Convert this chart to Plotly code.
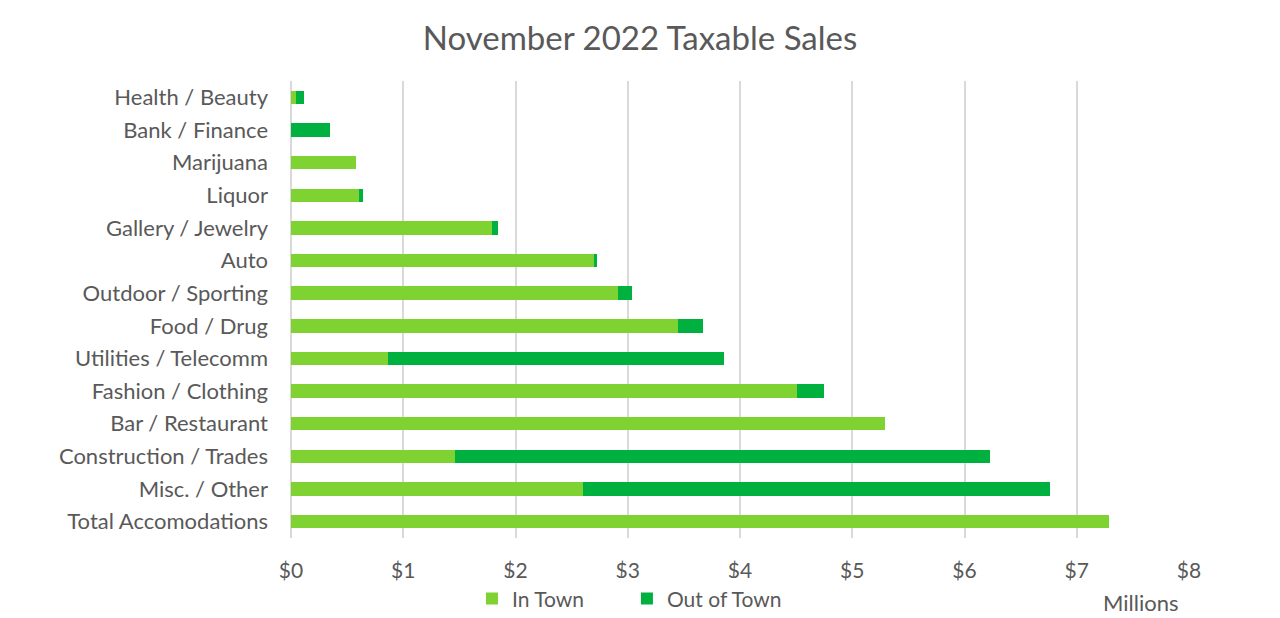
import plotly.graph_objects as go

categories = ["Health / Beauty", "Bank / Finance", "Marijuana", "Liquor", "Gallery / Jewelry",
              "Auto", "Outdoor / Sporting", "Food / Drug", "Utilities / Telecomm",
              "Fashion / Clothing", "Bar / Restaurant", "Construction / Trades",
              "Misc. / Other", "Total Accomodations"]
in_town = [0.045, 0.0, 0.58, 0.61, 1.79, 2.70, 2.91, 3.45, 0.866, 4.505, 5.29, 1.457, 2.60, 7.29]
out_of_town = [0.068, 0.35, 0.0, 0.035, 0.05, 0.03, 0.13, 0.22, 2.995, 0.24, 0.0, 4.77, 4.16, 0.0]
tick_vals = [0, 1, 2, 3, 4, 5, 6, 7, 8]
tick_text = ["$0", "$1", "$2", "$3", "$4", "$5", "$6", "$7", "$8"]

FONT = "Lato"
GREY = "#595959"

fig = go.Figure()
fig.add_trace(go.Bar(y=categories, x=in_town, orientation="h", name="In Town",
                     marker=dict(color="#7ED332", line=dict(width=0))))
fig.add_trace(go.Bar(y=categories, x=out_of_town, orientation="h", name="Out of Town",
                     marker=dict(color="#00B140", line=dict(width=0))))

fig.update_layout(
    barmode="stack",
    bargap=0.59,
    width=1264, height=610,
    margin=dict(l=283, r=83, t=73, b=80, autoexpand=False),
    paper_bgcolor="white", plot_bgcolor="white",
    font=dict(family=FONT, color=GREY, size=22),
    title=dict(text="November 2022 Taxable Sales", x=0.5, xanchor="center", xref="container",
               y=1 - 30 / 610, yanchor="middle", font=dict(size=33, color=GREY, family=FONT)),
    showlegend=True,
    legend=dict(orientation="h", x=0.2015, xanchor="left", y=-0.133, yanchor="middle",
                font=dict(size=21, color=GREY), traceorder="normal",
                itemwidth=30, entrywidth=110),
    xaxis=dict(range=[0, 8], tickvals=tick_vals, ticktext=tick_text, automargin=False,
               showgrid=True, gridcolor="#D9D9D9", gridwidth=2,
               zeroline=True, zerolinecolor="#D9D9D9", zerolinewidth=2,
               showline=False, ticks="", ticklen=0, ticklabelstandoff=18,
               tickfont=dict(size=21, color=GREY, family=FONT)),
    yaxis=dict(autorange="reversed", showgrid=False, ticks="", ticklen=0, automargin=False,
               ticklabelstandoff=22,
               tickfont=dict(size=22, color=GREY, family=FONT)),
    annotations=[dict(text="Millions", xref="paper", yref="paper", x=0.9465, y=-0.1422,
                      xanchor="center", yanchor="middle", showarrow=False,
                      font=dict(size=22, color=GREY, family=FONT))],
)

fig.write_html("out.html")
